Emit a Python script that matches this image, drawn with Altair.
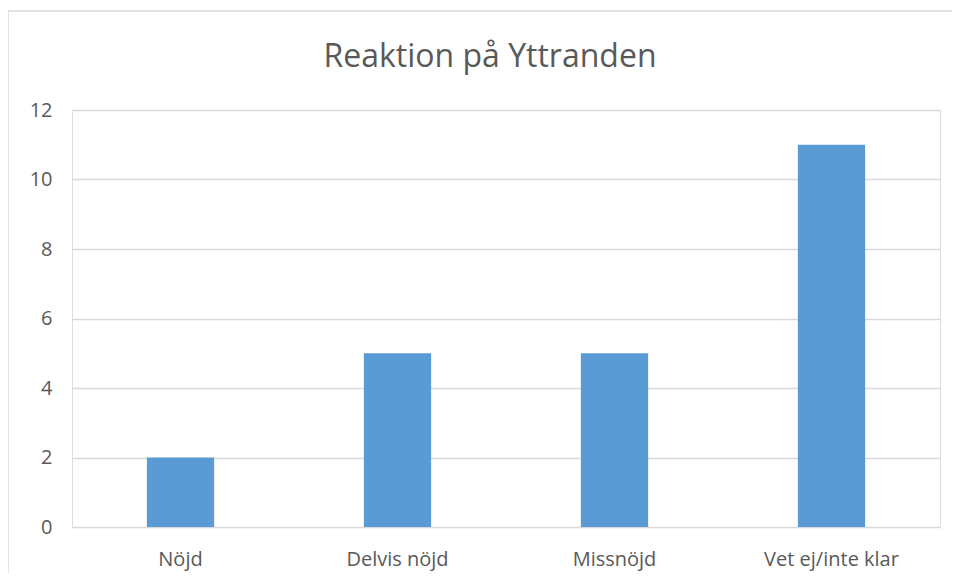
import altair as alt
import pandas as pd

categories = ["Nöjd", "Delvis nöjd", "Missnöjd", "Vet ej/inte klar"]
values = [2, 5, 5, 11]
title_text = "Reaktion på Yttranden"

df = pd.DataFrame({"kategori": categories, "antal": values})

FONT = "Open Sans"
W, H = 868, 417
FRAME = "#d9d9d9"

one = pd.DataFrame({"a": [0]})
frame_top = alt.Chart(one).mark_rule(color=FRAME, strokeWidth=1.5).encode(
    x=alt.value(-64), x2=alt.value(W + 200), y=alt.value(-99),
)
frame_left = alt.Chart(one).mark_rule(color=FRAME, strokeWidth=1.5).encode(
    x=alt.value(-64), y=alt.value(-99), y2=alt.value(H + 200),
)

bars = alt.Chart(df).mark_bar(color="#5B9BD5").encode(
    x=alt.X("kategori:N", sort=categories, title=None,
            scale=alt.Scale(paddingInner=0.69, paddingOuter=0.345),
            axis=alt.Axis(labelAngle=0, domain=False, ticks=False,
                          labelPadding=22, labelFontSize=20, labelColor="#595959",
                          labelFont=FONT)),
    y=alt.Y("antal:Q", title=None,
            scale=alt.Scale(domain=[0, 12]),
            axis=alt.Axis(values=[0, 2, 4, 6, 8, 10, 12], domain=False, ticks=False,
                          labelPadding=20, labelFontSize=20, labelColor="#595959",
                          labelFont=FONT, gridColor="#d9d9d9", gridWidth=1.5)),
)

chart = alt.layer(frame_top, frame_left, bars).properties(
    width=W, height=H,
    title=alt.TitleParams(title_text, fontSize=32, font=FONT, fontWeight="normal",
                          color="#595959", anchor="middle", dx=-16, offset=-64),
    autosize=alt.AutoSizeParams(type="none"),
    padding={"left": 64, "top": 102, "right": 12, "bottom": 46},
).configure_view(stroke=None).configure(background="white")

chart.save("out.html", embed_options={"renderer": "svg", "actions": False})
